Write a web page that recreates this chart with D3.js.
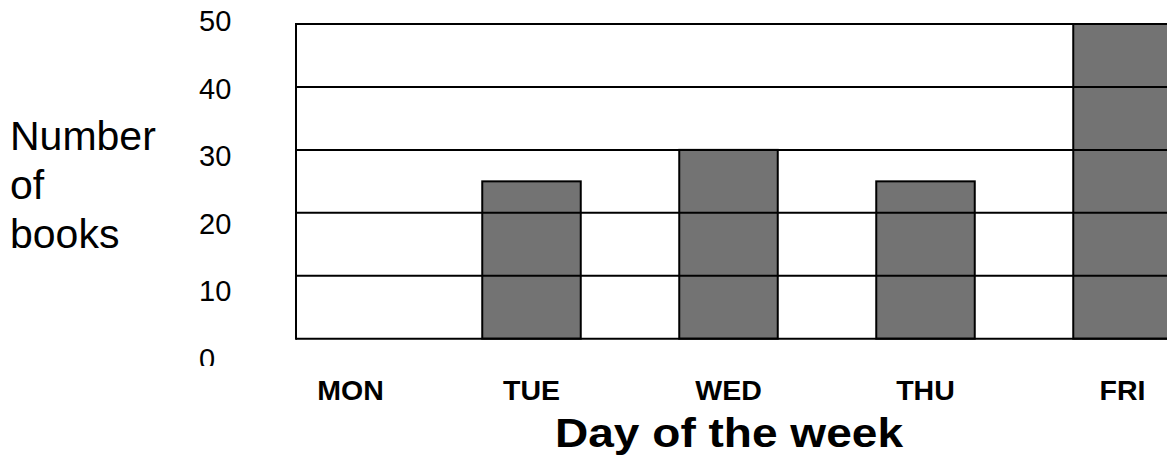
<!DOCTYPE html>
<html>
<head>
<meta charset="utf-8">
<script src="https://cdn.jsdelivr.net/npm/d3@7"></script>
<style>
  html, body { margin: 0; padding: 0; background: #fff; }
  svg { display: block; font-family: "Liberation Sans", Arial, sans-serif; }
</style>
</head>
<body>
<svg id="chart"></svg>
<script>
const days = ["MON", "TUE", "WED", "THU", "FRI"]
const books = [0, 25, 30, 25, 50]
const yTicks = [0, 10, 20, 30, 40, 50]
const yTitleLines = ["Number", "of", "books"]
const xTitle = "Day of the week"

const width = 1167
const height = 462

const svg = d3.select("#chart")
    .attr("width", width)
    .attr("height", height)
    .attr("viewBox", [0, 0, width, height])

const plotLeft = 296
const plotRight = 1221

const x = d3.scaleBand()
    .domain(days)
    .range([236, 1221])
    .paddingInner(0.5)
    .paddingOuter(0.25)

const y = d3.scaleLinear().domain([0, 50]).range([338.7, 24])

// tick labels sit on a slightly wider spacing than the grid
const yLabel = d3.scaleLinear().domain([0, 50]).range([369, 31.3])

svg.append("defs").append("clipPath")
    .attr("id", "tickClip")
    .append("rect")
    .attr("x", 0).attr("y", 0)
    .attr("width", 290).attr("height", 366)

// bars
svg.append("g")
    .selectAll("rect")
    .data(days)
    .join("rect")
    .attr("x", d => x(d))
    .attr("y", (d, i) => y(books[i]))
    .attr("width", x.bandwidth())
    .attr("height", (d, i) => y(0) - y(books[i]))
    .attr("fill", "#737373")
    .attr("stroke", "#000")
    .attr("stroke-width", 2)

// grid lines drawn over the bars
svg.append("g")
    .attr("stroke", "#000")
    .attr("stroke-width", 2)
    .selectAll("line")
    .data(yTicks)
    .join("line")
    .attr("x1", plotLeft)
    .attr("x2", plotRight)
    .attr("y1", d => y(d))
    .attr("y2", d => y(d))

svg.append("line")
    .attr("x1", plotLeft).attr("x2", plotLeft)
    .attr("y1", y(0) + 1).attr("y2", y(50) - 1)
    .attr("stroke", "#000")
    .attr("stroke-width", 2)

// y tick labels
svg.append("g")
    .attr("clip-path", "url(#tickClip)")
    .selectAll("text")
    .data(yTicks)
    .join("text")
    .attr("x", 199)
    .attr("y", d => yLabel(d))
    .attr("font-size", 29)
    .attr("fill", "#000")
    .text(d => d)

// category labels
svg.append("g")
    .selectAll("text")
    .data(days)
    .join("text")
    .attr("x", d => x(d) + x.bandwidth() / 2)
    .attr("dx", (d, i) => i === 0 ? 16 : 0)
    .attr("y", 400)
    .attr("text-anchor", "middle")
    .attr("font-size", 28.5)
    .attr("font-weight", "bold")
    .attr("fill", "#000")
    .text(d => d)

// x axis title
svg.append("text")
    .attr("x", 729)
    .attr("y", 446.7)
    .attr("text-anchor", "middle")
    .attr("font-size", 40)
    .attr("font-weight", "bold")
    .attr("textLength", 348)
    .attr("lengthAdjust", "spacingAndGlyphs")
    .text(xTitle)

// y axis title
svg.append("g")
    .selectAll("text")
    .data(yTitleLines)
    .join("text")
    .attr("x", 10)
    .attr("y", (d, i) => 150 + i * 49)
    .attr("font-size", 41)
    .attr("fill", "#000")
    .text(d => d)
</script>
</body>
</html>
